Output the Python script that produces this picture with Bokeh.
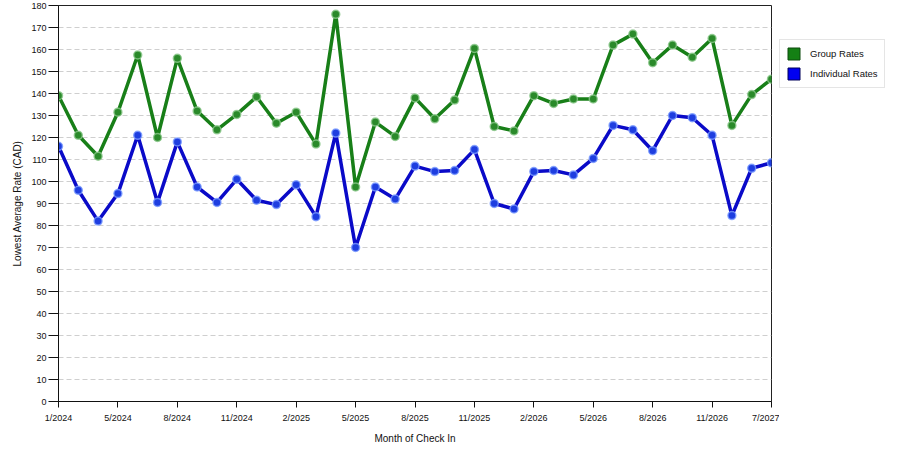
from bokeh.plotting import figure
from bokeh.models import ColumnDataSource, FixedTicker, Legend, LegendItem
from bokeh.layouts import row
from bokeh.embed import file_html
from bokeh.resources import INLINE

# ---- data ----
tick_positions = [0, 3, 6, 9, 12, 15, 18, 21, 24, 27, 30, 33, 36]
tick_labels = ["1/2024", "5/2024", "8/2024", "11/2024", "2/2025", "5/2025", "8/2025",
               "11/2025", "2/2026", "5/2026", "8/2026", "11/2026", "7/2027"]

group_rates = [139, 121, 111.5, 131.5, 157.5, 120, 156, 132, 123.5, 130.5, 138.5, 126.5,
               131.5, 117, 176, 97.5, 127, 120.5, 138, 128.5, 137, 160.5, 125, 123,
               139, 135.5, 137.5, 137.5, 162, 167, 154, 162, 156.5, 165, 125.5, 139.5, 146.5]

individual_rates = [116, 96, 82, 94.5, 121, 90.5, 118, 97.5, 90.5, 101, 91.5, 89.5,
                    98.5, 84, 122, 70, 97.5, 92, 107, 104.5, 105, 114.5, 90, 87.5,
                    104.5, 105, 103, 110.5, 125.5, 123.5, 114, 130, 129, 121, 84.5, 106, 108.5]

series_names = ["Group Rates", "Individual Rates"]

months = list(range(len(group_rates)))

FONT = "Liberation Sans"

p = figure(width=779, height=450, output_backend="svg", toolbar_location=None,
           x_range=(0, 36), y_range=(0, 180),
           min_border_left=58, min_border_right=8, min_border_top=5, min_border_bottom=49)

p.background_fill_color = "white"
p.border_fill_color = "white"
p.outline_line_color = "#222222"
p.outline_line_width = 1

green_src = ColumnDataSource(dict(x=months, y=group_rates))
blue_src = ColumnDataSource(dict(x=months, y=individual_rates))

p.line("x", "y", source=green_src, line_color="#187f18", line_width=3.5)
p.scatter("x", "y", source=green_src, size=8, fill_color="#2a8a2a",
          line_color="#8cc88c", line_alpha=0.8, line_width=1.5)

p.line("x", "y", source=blue_src, line_color="#0a0ac8", line_width=3.5)
p.scatter("x", "y", source=blue_src, size=8, fill_color="#1e3ee0",
          line_color="#7c9cff", line_alpha=0.8, line_width=1.5)

# axes
p.xaxis.ticker = FixedTicker(ticks=tick_positions)
p.xaxis.major_label_overrides = {pos: lab for pos, lab in zip(tick_positions, tick_labels)}
p.yaxis.ticker = FixedTicker(ticks=list(range(0, 181, 10)))

for ax in (p.xaxis[0], p.yaxis[0]):
    ax.axis_line_color = "#111111"
    ax.major_tick_line_color = "#111111"
    ax.minor_tick_line_color = None
    ax.major_tick_in = 0
    ax.major_label_text_font = FONT
    ax.major_label_text_font_size = "9px"
    ax.major_label_text_color = "#111111"
    ax.axis_label_text_font = FONT
    ax.axis_label_text_font_size = "10px"
    ax.axis_label_text_font_style = "normal"
    ax.axis_label_text_color = "#111111"

p.xaxis.major_tick_out = 6
p.xaxis.major_label_standoff = 5
p.xaxis.axis_label = "Month of Check In"
p.xaxis.axis_label_standoff = 7

p.yaxis.major_tick_out = 10
p.yaxis.major_label_standoff = 2
p.yaxis.axis_label = "Lowest Average Rate (CAD)"
p.yaxis.axis_label_standoff = 5

p.xgrid.grid_line_color = None
p.ygrid.grid_line_color = "#cfcfcf"
p.ygrid.grid_line_dash = "5 3"
p.ygrid.grid_line_width = 1

# ---- legend panel (separate small figure to the right) ----
lp = figure(width=121, height=450, output_backend="svg", toolbar_location=None,
            x_range=(0, 1), y_range=(0, 1), x_axis_type=None, y_axis_type=None,
            min_border_left=0, min_border_right=1, min_border_top=5, min_border_bottom=49)
lp.outline_line_color = None
lp.grid.grid_line_color = None
lp.background_fill_color = "white"
lp.border_fill_color = "white"

nan_src = ColumnDataSource(dict(l=[float("nan")], r=[float("nan")],
                                b=[float("nan")], t=[float("nan")]))
g_sw = lp.quad(left="l", right="r", bottom="b", top="t", source=nan_src,
               fill_color="#148014", line_color="#0c4a0c", line_width=1)
b_sw = lp.quad(left="l", right="r", bottom="b", top="t", source=nan_src,
               fill_color="#0000f0", line_color="#00005a", line_width=1)

legend = Legend(items=[LegendItem(label=series_names[0], renderers=[g_sw]),
                       LegendItem(label=series_names[1], renderers=[b_sw])],
                location=(0, 313))
legend.border_line_color = "#cccccc"
legend.border_line_width = 1
legend.background_fill_color = "white"
legend.padding = 6
legend.spacing = 5
legend.margin = 0
legend.glyph_width = 15
legend.glyph_height = 15
legend.label_height = 13
legend.label_width = 10
legend.label_standoff = 9
legend.label_text_font = FONT
legend.label_text_font_size = "9.5px"
legend.label_text_color = "#111111"
lp.add_layout(legend, "center")

layout = row(p, lp)

open("out.html", "w").write(file_html(layout, INLINE))
